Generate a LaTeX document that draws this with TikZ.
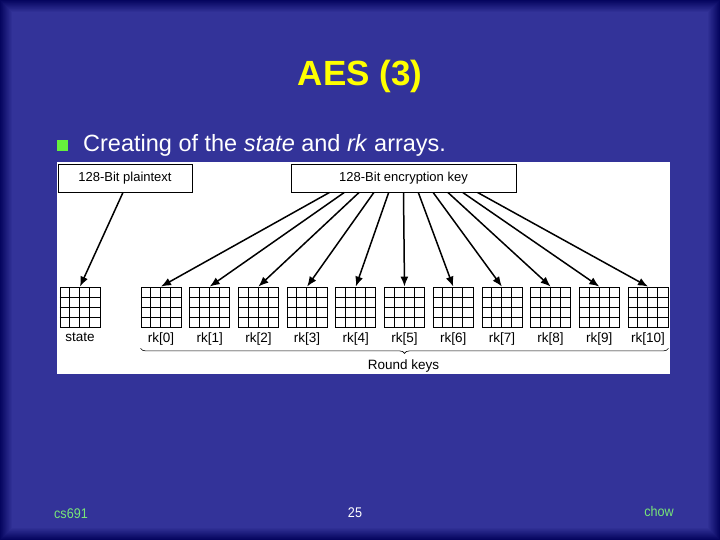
\documentclass[tikz,border=0pt]{standalone}
\usepackage{fontspec}
\setmainfont{Liberation Sans}
\usetikzlibrary{positioning,decorations.pathreplacing,arrows.meta}

\definecolor{slideblue}{RGB}{51,51,153}
\definecolor{slidenavy}{RGB}{5,5,95}
\definecolor{titleyellow}{RGB}{255,255,0}
\definecolor{footgreen}{RGB}{120,230,120}
\definecolor{bulletgreen}{RGB}{102,240,60}

\tikzset{
  box/.style={draw, line width=0.9pt, fill=white, minimum height=28pt, inner sep=2pt, font=\fontsize{13}{15}\selectfont},
  keygrid/.style={draw, line width=0.8pt, minimum size=40pt, inner sep=0pt},
  lbl/.style={font=\fontsize{13.5}{15}\selectfont, inner sep=1pt},
  foot/.style={font=\fontsize{14}{16}\selectfont, xscale=0.9},
  arr/.style={-{Latex[length=10pt,width=8pt]}, line width=1.5pt}
}

% inner lines of a 4x4 array node
\newcommand{\cells}[1]{%
    \foreach \t in {10,20,30} {
        \draw[line width=0.7pt] ([xshift=\t pt]#1.south west) -- ([xshift=\t pt]#1.north west);
        \draw[line width=0.7pt] ([yshift=\t pt]#1.south west) -- ([yshift=\t pt]#1.south east);
    }}

\begin{document}
\begin{tikzpicture}[x=1pt, y=-1pt]
    \useasboundingbox (0,0) rectangle (720,540);
    % slide background
    \foreach \k [evaluate=\k as \pct using int(100*\k/12)] in {0,...,12}
        \fill[slideblue!\pct!slidenavy] (\k,\k) rectangle (720-\k,540-\k);

    \node[font=\fontsize{35}{40}\selectfont\bfseries, text=titleyellow] (title) at (360,76) {AES (3)};
    \node[fill=bulletgreen, minimum size=11pt, inner sep=0pt] (bullet) at (62.5,145.5) {};
    \node[anchor=base west, font=\fontsize{23.5}{26}\selectfont, text=white, inner sep=0pt] (intro) at (83,152)
        {Creating of the \textit{state} and \textit{rk} arrays.};

    % figure panel
    \fill[white] (57,162) rectangle (670,374);

    \node[box, minimum width=134pt] (plain) at (125,178) {128-Bit plaintext};
    \node[box, minimum width=225pt] (key) at (403.5,178) {128-Bit encryption key};

    \node[keygrid] (state) at (80,307) {};
    \cells{state}
    \node[lbl, below=4pt of state] (lstate) {state};
    \draw[arr] ([xshift=-2pt]plain.south) -- (state.north);

    \foreach \i in {0,...,10} {
        \node[keygrid] (rk\i) at (161+\i*48.7,307) {};
        \cells{rk\i}
        \node[lbl, below=4pt of rk\i] (l\i) {rk[\i]};
        \draw[arr] ([xshift={(\i-5)*14.8}]key.south) -- (rk\i.north);
    }

    \draw[line width=0.6pt, decorate, decoration={brace, mirror, amplitude=5pt}]
        ([yshift=-2pt]l0.south -| rk0.west) -- ([yshift=-2pt]l10.south -| rk10.east);
    \node[lbl] (round) at (403.5,366) {Round keys};

    % footer
    \node[foot, text=footgreen] (course) at (71,514) {cs691};
    \node[foot, text=white] (page) at (355,512.5) {25};
    \node[foot, text=footgreen] (author) at (659,511) {chow};
\end{tikzpicture}
\end{document}
